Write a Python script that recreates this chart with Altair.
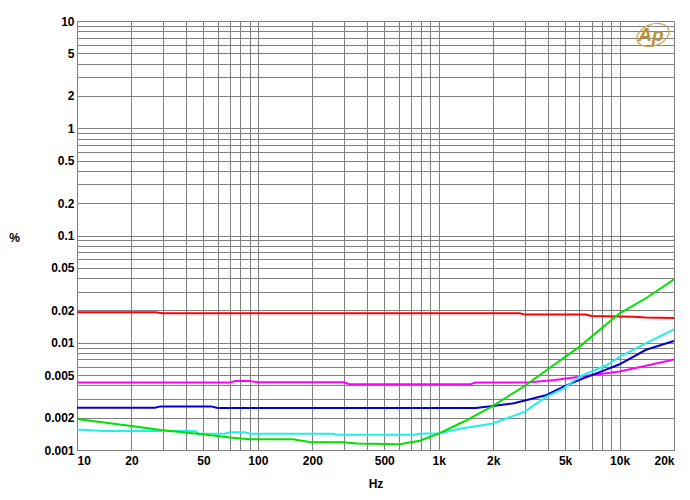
import altair as alt
import pandas as pd

red_f = [10, 27, 30, 1000, 2800, 3000, 6500, 7000, 12000, 14000, 20000]
red_v = [0.0192, 0.0192, 0.0188, 0.0188, 0.0188, 0.0183, 0.0183, 0.0178, 0.0175, 0.0172, 0.0170]

mag_f = [10, 70, 75, 90, 100, 300, 320, 1500, 1600, 3200, 4400, 7100, 10000, 14000, 20000]
mag_v = [0.00425, 0.00425, 0.0044, 0.0044, 0.00428, 0.00428, 0.0041, 0.0041, 0.00425, 0.00428, 0.0045, 0.0050, 0.0054, 0.0061, 0.0070]

blu_f = [10, 27, 29, 55, 60, 1600, 2000, 2565, 3000, 3955, 4900, 6010, 8500, 10000, 14000, 20000]
blu_v = [0.00248, 0.00248, 0.00255, 0.00255, 0.00246, 0.00246, 0.00257, 0.00272, 0.0029, 0.00326, 0.0039, 0.0045, 0.00565, 0.0063, 0.0086, 0.0104]

cya_f = [10, 14, 45, 47, 65, 70, 85, 90, 260, 270, 740, 780, 1000, 1340, 1986, 2565, 2985, 3955, 4900, 6010, 8500, 10000, 14000, 20000]
cya_v = [0.00155, 0.0015, 0.0015, 0.00142, 0.00142, 0.00146, 0.00146, 0.00142, 0.00142, 0.00139, 0.00139, 0.00142, 0.00143, 0.00159, 0.00177, 0.00207, 0.00228, 0.00314, 0.00376, 0.00482, 0.0062, 0.0074, 0.0099, 0.0133]

grn_f = [10, 19, 29, 48, 70, 90, 156, 194, 294, 352, 608, 785, 1000, 1257, 1430, 1986, 2985, 3955, 6010, 10000, 14000, 20000]
grn_v = [0.00195, 0.00169, 0.00154, 0.00141, 0.00131, 0.00126, 0.00126, 0.00119, 0.00118, 0.00115, 0.00113, 0.00122, 0.00142, 0.00171, 0.0019, 0.00257, 0.00395, 0.00557, 0.0092, 0.0188, 0.026, 0.039]

series = [
    ("red", red_f, red_v),
    ("magenta", mag_f, mag_v),
    ("blue", blu_f, blu_v),
    ("cyan", cya_f, cya_v),
    ("green", grn_f, grn_v),
]
colors = ["#ff0000", "#ff00ff", "#0000c8", "#22eeee", "#00e000"]

rows = []
for name, fs, vs in series:
    for i, (f, v) in enumerate(zip(fs, vs)):
        rows.append({"s": name, "f": f, "v": v, "o": i})
df = pd.DataFrame(rows)

x_grid = []
for e in range(1, 5):
    for m in range(1, 10):
        val = m * 10 ** e
        if val <= 20000:
            x_grid.append(val)
y_grid = []
for e in range(-3, 1):
    for m in range(1, 10):
        y_grid.append(round(m * 10.0 ** e, 6))
y_grid.append(10)

mant = "round(datum.value / pow(10, floor(log(datum.value) / LN10 + 1e-9)))"
x_label = ("(" + mant + " == 1 || " + mant + " == 2 || " + mant + " == 5) ? "
           "(datum.value >= 1000 ? (datum.value / 1000) + 'k' : datum.value + '') : ''")
y_label = ("(" + mant + " == 1 || " + mant + " == 2 || " + mant + " == 5) ? datum.value + '' : ''")

font = "Liberation Sans"

lines = alt.Chart(df).mark_line(strokeWidth=2, clip=True).encode(
    x=alt.X("f:Q", scale=alt.Scale(type="log", domain=[10, 20000], nice=False),
            axis=alt.Axis(values=x_grid, labelExpr=x_label, title="Hz", grid=True,
                          gridColor="#808080", gridOpacity=1, gridWidth=1,
                          ticks=False, domainColor="#808080", labelFlush=True,
                          labelPadding=5, labelFont=font, labelFontSize=12,
                          labelFontWeight="bold",
                          labelColor="#000000", titleFont=font, titleFontSize=12,
                          titleFontWeight="bold", titleY=33, titleBaseline="middle",
                          labelOverlap=False)),
    y=alt.Y("v:Q", scale=alt.Scale(type="log", domain=[0.001, 10], nice=False),
            axis=alt.Axis(values=y_grid, labelExpr=y_label, title="%", grid=True,
                          gridColor="#808080", gridOpacity=1, gridWidth=1,
                          ticks=False, domainColor="#808080", labelPadding=3,
                          labelFont=font, labelFontSize=12, labelColor="#000000",
                          labelFontWeight="bold",
                          titleFont=font, titleFontSize=12, titleFontWeight="bold",
                          titleAngle=0, titleX=-63, titleY=216, titleAlign="center",
                          titleBaseline="middle", labelOverlap=False)),
    color=alt.Color("s:N", scale=alt.Scale(domain=[s[0] for s in series], range=colors),
                    legend=None),
    order="o:Q",
)

logo_df = pd.DataFrame({"t": ["Ap"]})

logo = alt.Chart(logo_df).mark_text(
    font=font, fontSize=19, fontStyle="italic", fontWeight="bold", color="#b8913a"
).encode(x=alt.value(574), y=alt.value(14), text="t:N")

ellipse_path = ("M-1,0C-1,-0.36,-0.55,-0.65,0,-0.65C0.55,-0.65,1,-0.36,1,0"
                "C1,0.36,0.55,0.65,0,0.65C-0.55,0.65,-1,0.36,-1,0Z")
ring = alt.Chart(logo_df).mark_point(
    shape=ellipse_path, filled=False, opacity=1,
    color="#c8a860", strokeWidth=1.3, angle=340
).encode(x=alt.value(576), y=alt.value(14), size=alt.value(1100))

chart = alt.layer(lines, ring, logo).properties(
    width=597, height=429,
    autosize=alt.AutoSizeParams(type="none"),
    padding={"left": 69, "top": 13, "right": 8, "bottom": 45},
).configure_view(stroke="#808080", strokeWidth=1).configure(background="#ffffff")

chart.save("out.html", embed_options={"renderer": "svg", "actions": False})
